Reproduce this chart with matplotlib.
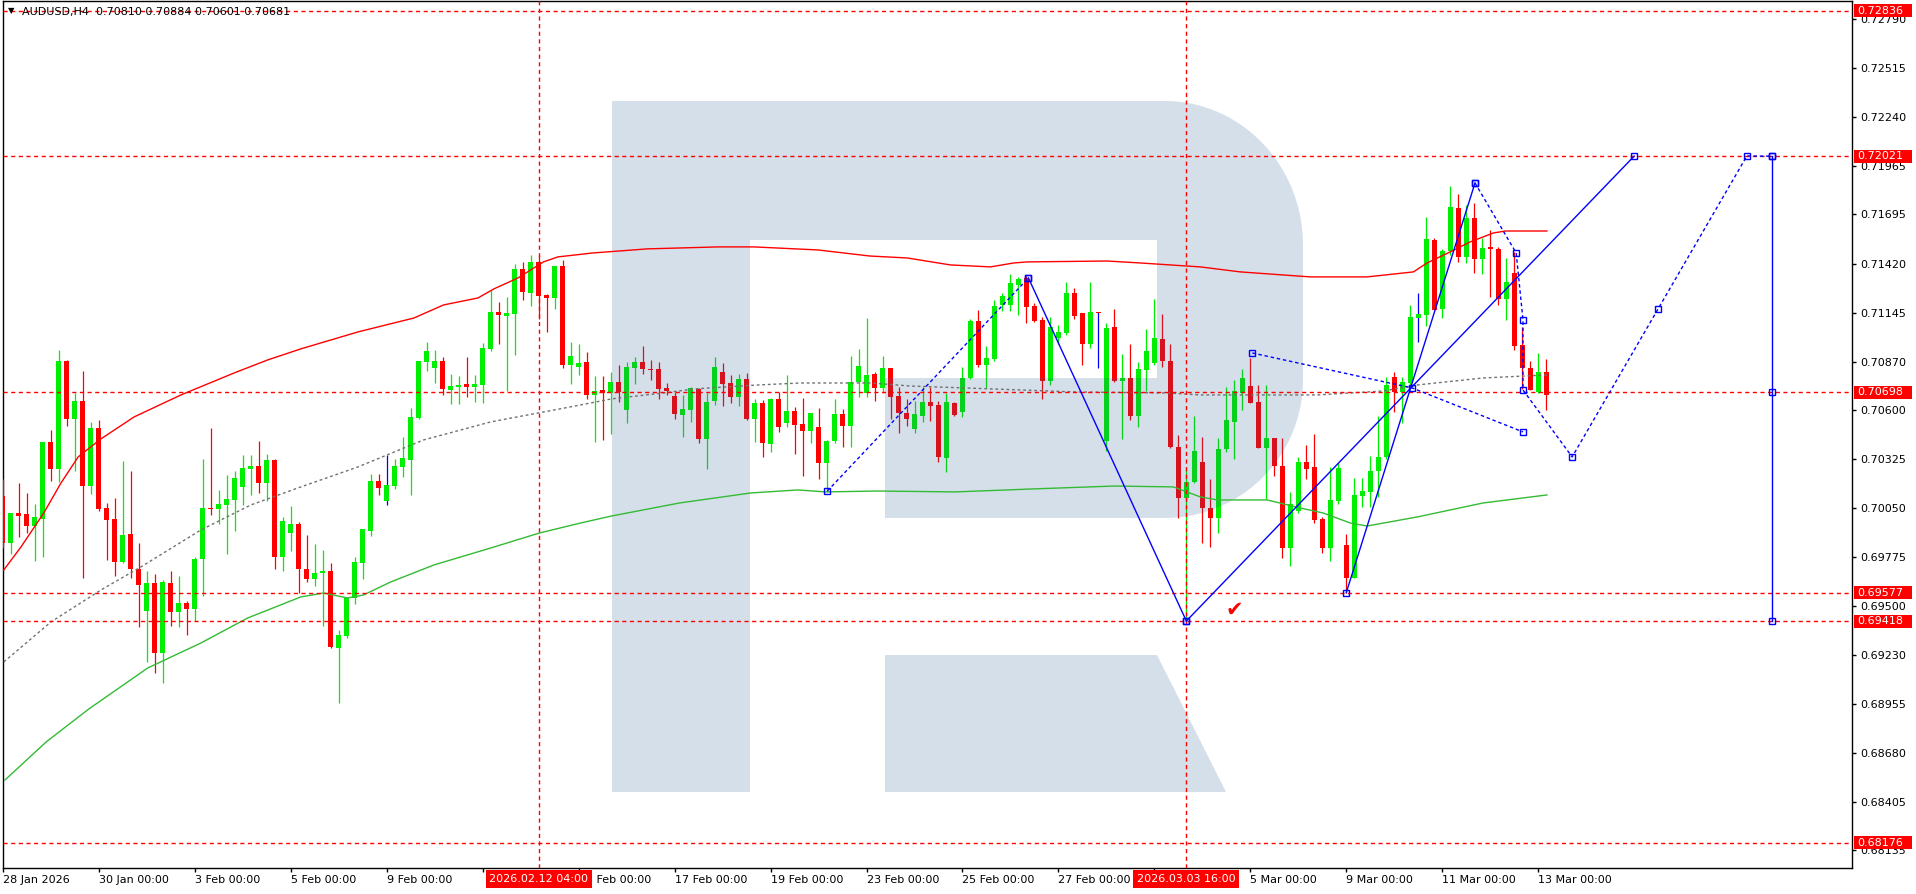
import numpy as np
import matplotlib
matplotlib.use("Agg")
import matplotlib.pyplot as plt
from matplotlib.patches import Polygon, Rectangle
from matplotlib.transforms import blended_transform_factory

# ---- AUDUSD H4 candles (bar index 0 = 28 Jan 2026 00:00) ----
opens = [0.70118, 0.69855, 0.70023, 0.70018, 0.69950, 0.69990, 0.70421, 0.70270, 0.70874, 0.70550,
         0.70650, 0.70174, 0.70499, 0.70051, 0.69990, 0.69749, 0.69906, 0.69710, 0.69474, 0.69631,
         0.69239, 0.69631, 0.69467, 0.69519, 0.69486, 0.69766, 0.70051, 0.70046, 0.70068, 0.70096,
         0.70169, 0.70270, 0.70286, 0.70191, 0.70320, 0.69777, 0.69911, 0.69962, 0.69710, 0.69654,
         0.69687, 0.69698, 0.69267, 0.69334, 0.69547, 0.69743, 0.69922, 0.70202, 0.70090, 0.70174,
         0.70281, 0.70320, 0.70555, 0.70869, 0.70835, 0.70874, 0.70712, 0.70729, 0.70746, 0.70729,
         0.70740, 0.70942, 0.71149, 0.71126, 0.71138, 0.71390, 0.71255, 0.71429, 0.71244, 0.71227,
         0.71406, 0.70852, 0.70841, 0.70869, 0.70684, 0.70712, 0.70695, 0.70757, 0.70600, 0.70835,
         0.70869, 0.70830, 0.70830, 0.70723, 0.70678, 0.70572, 0.70600, 0.70718, 0.70438, 0.70650,
         0.70813, 0.70751, 0.70673, 0.70774, 0.70550, 0.70639, 0.70410, 0.70662, 0.70527, 0.70594,
         0.70522, 0.70482, 0.70505, 0.70303, 0.70426, 0.70578, 0.70510, 0.70757, 0.70695, 0.70802,
         0.70723, 0.70835, 0.70678, 0.70583, 0.70494, 0.70566, 0.70645, 0.70628, 0.70331, 0.70639,
         0.70589, 0.70779, 0.71098, 0.70852, 0.70886, 0.71188, 0.71188, 0.71300, 0.71339, 0.71182,
         0.71104, 0.70762, 0.71003, 0.71031, 0.71255, 0.71143, 0.70970, 0.71149, 0.70426, 0.71065,
         0.70762, 0.70779, 0.70566, 0.70824, 0.70863, 0.70998, 0.70874, 0.70393, 0.70107, 0.70197,
         0.70309, 0.70051, 0.69995, 0.70382, 0.70533, 0.70695, 0.70734, 0.70645, 0.70387, 0.70443,
         0.70286, 0.69827, 0.70034, 0.70309, 0.70281, 0.69990, 0.69827, 0.70090, 0.69844, 0.69659,
         0.70118, 0.70141, 0.70258, 0.70337, 0.70785, 0.70701, 0.70751, 0.71115, 0.71132, 0.71552,
         0.71166, 0.71490, 0.71731, 0.71457, 0.71675, 0.71446, 0.71513, 0.71502, 0.71222, 0.71367,
         0.70964, 0.70835, 0.70701, 0.70810]
highs = [0.70214, 0.70023, 0.70191, 0.70135, 0.70074, 0.70421, 0.70488, 0.70936, 0.70880, 0.70695,
         0.70818, 0.70533, 0.70544, 0.70079, 0.70107, 0.70314, 0.70258, 0.69855, 0.69698, 0.69682,
         0.69648, 0.69698, 0.69670, 0.69530, 0.69777, 0.70326, 0.70499, 0.70152, 0.70236, 0.70258,
         0.70345, 0.70348, 0.70426, 0.70354, 0.70326, 0.70001, 0.70062, 0.69973, 0.69900, 0.69850,
         0.69816, 0.69743, 0.69368, 0.69553, 0.69777, 0.69934, 0.70242, 0.70242, 0.70345, 0.70326,
         0.70449, 0.70611, 0.70874, 0.70981, 0.70936, 0.70897, 0.70802, 0.70790, 0.70897, 0.70796,
         0.70975, 0.71272, 0.71205, 0.71233, 0.71418, 0.71429, 0.71468, 0.71468, 0.71250, 0.71406,
         0.71440, 0.70981, 0.70970, 0.70925, 0.70790, 0.70790, 0.70813, 0.70852, 0.70869, 0.70897,
         0.70958, 0.70880, 0.70869, 0.70751, 0.70701, 0.70684, 0.70729, 0.70723, 0.70695, 0.70897,
         0.70863, 0.70796, 0.70802, 0.70807, 0.70662, 0.70656, 0.70667, 0.70701, 0.70796, 0.70617,
         0.70667, 0.70583, 0.70611, 0.70432, 0.70662, 0.70606, 0.70902, 0.70942, 0.71115, 0.70813,
         0.70902, 0.70835, 0.70729, 0.70662, 0.70650, 0.70729, 0.70729, 0.70650, 0.70695, 0.70645,
         0.70841, 0.71110, 0.71160, 0.70958, 0.71216, 0.71255, 0.71362, 0.71345, 0.71350, 0.71199,
         0.71121, 0.71121, 0.71076, 0.71317, 0.71283, 0.71143, 0.71317, 0.71149, 0.71087, 0.71166,
         0.70914, 0.70970, 0.70869, 0.71054, 0.71222, 0.71138, 0.70970, 0.70460, 0.70264, 0.70566,
         0.70449, 0.70214, 0.70443, 0.70729, 0.70768, 0.70830, 0.70891, 0.70740, 0.70740, 0.70443,
         0.70443, 0.70141, 0.70337, 0.70404, 0.70466, 0.70001, 0.70281, 0.70303, 0.69906, 0.70219,
         0.70219, 0.70342, 0.70566, 0.70785, 0.70813, 0.70785, 0.71188, 0.71255, 0.71681, 0.71563,
         0.71502, 0.71854, 0.71810, 0.71748, 0.71759, 0.71563, 0.71608, 0.71513, 0.71451, 0.71485,
         0.71065, 0.70874, 0.70919, 0.70884]
lows = [0.69827, 0.69794, 0.69889, 0.69911, 0.69754, 0.69777, 0.70202, 0.70197, 0.70510, 0.70258,
        0.69659, 0.70130, 0.70034, 0.69760, 0.69670, 0.69743, 0.69659, 0.69385, 0.69189, 0.69127,
        0.69071, 0.69390, 0.69385, 0.69340, 0.69418, 0.69558, 0.70012, 0.69962, 0.69794, 0.69922,
        0.70068, 0.70124, 0.70135, 0.70090, 0.69710, 0.69698, 0.69810, 0.69575, 0.69637, 0.69614,
        0.69390, 0.69267, 0.68959, 0.69323, 0.69514, 0.69654, 0.69894, 0.70124, 0.70068, 0.70158,
        0.70225, 0.70124, 0.70550, 0.70818, 0.70751, 0.70684, 0.70634, 0.70634, 0.70673, 0.70645,
        0.70639, 0.70930, 0.70970, 0.70706, 0.70908, 0.71216, 0.71182, 0.71110, 0.71037, 0.71166,
        0.70835, 0.70746, 0.70796, 0.70662, 0.70421, 0.70432, 0.70466, 0.70645, 0.70527, 0.70746,
        0.70802, 0.70768, 0.70662, 0.70684, 0.70550, 0.70449, 0.70533, 0.70415, 0.70270, 0.70628,
        0.70622, 0.70639, 0.70622, 0.70544, 0.70421, 0.70337, 0.70365, 0.70477, 0.70505, 0.70354,
        0.70230, 0.70415, 0.70214, 0.70141, 0.70415, 0.70393, 0.70393, 0.70673, 0.70673, 0.70650,
        0.70695, 0.70550, 0.70471, 0.70510, 0.70471, 0.70533, 0.70538, 0.70309, 0.70253, 0.70566,
        0.70561, 0.70774, 0.70841, 0.70723, 0.70874, 0.71154, 0.71154, 0.71132, 0.71087, 0.71093,
        0.70662, 0.70740, 0.70970, 0.71020, 0.71110, 0.70852, 0.70947, 0.70835, 0.70370, 0.70757,
        0.70438, 0.70544, 0.70505, 0.70706, 0.70852, 0.70841, 0.70387, 0.69995, 0.69418, 0.70191,
        0.69855, 0.69833, 0.69911, 0.70365, 0.70326, 0.70600, 0.70639, 0.70387, 0.70102, 0.70230,
        0.69771, 0.69726, 0.70023, 0.70214, 0.69967, 0.69799, 0.69754, 0.70074, 0.69577, 0.69659,
        0.70057, 0.70057, 0.70113, 0.70326, 0.70589, 0.70527, 0.70723, 0.70981, 0.71070, 0.71160,
        0.71115, 0.71468, 0.71429, 0.71423, 0.71367, 0.71362, 0.71233, 0.71188, 0.71104, 0.70936,
        0.70718, 0.70712, 0.70695, 0.70601]
closes = [0.69855, 0.70023, 0.70006, 0.69950, 0.70001, 0.70421, 0.70270, 0.70874, 0.70550, 0.70650,
          0.70174, 0.70499, 0.70046, 0.69984, 0.69749, 0.69900, 0.69710, 0.69620, 0.69631, 0.69239,
          0.69637, 0.69467, 0.69519, 0.69486, 0.69766, 0.70051, 0.70046, 0.70074, 0.70102, 0.70219,
          0.70275, 0.70286, 0.70191, 0.70320, 0.69777, 0.69978, 0.69962, 0.69710, 0.69654, 0.69687,
          0.69698, 0.69273, 0.69340, 0.69547, 0.69749, 0.69934, 0.70202, 0.70163, 0.70180, 0.70286,
          0.70331, 0.70561, 0.70874, 0.70930, 0.70874, 0.70718, 0.70734, 0.70740, 0.70729, 0.70746,
          0.70947, 0.71149, 0.71132, 0.71143, 0.71390, 0.71261, 0.71429, 0.71238, 0.71227, 0.71406,
          0.70852, 0.70902, 0.70863, 0.70684, 0.70706, 0.70695, 0.70757, 0.70701, 0.70841, 0.70869,
          0.70830, 0.70824, 0.70718, 0.70706, 0.70578, 0.70606, 0.70723, 0.70438, 0.70645, 0.70841,
          0.70746, 0.70673, 0.70774, 0.70550, 0.70639, 0.70415, 0.70662, 0.70505, 0.70594, 0.70516,
          0.70482, 0.70583, 0.70303, 0.70426, 0.70578, 0.70510, 0.70757, 0.70846, 0.70796, 0.70723,
          0.70835, 0.70673, 0.70583, 0.70550, 0.70578, 0.70645, 0.70622, 0.70337, 0.70645, 0.70572,
          0.70779, 0.71098, 0.70852, 0.70891, 0.71182, 0.71238, 0.71311, 0.71334, 0.71177, 0.71098,
          0.70762, 0.71065, 0.71037, 0.71255, 0.71126, 0.70970, 0.71149, 0.71143, 0.71059, 0.70762,
          0.70779, 0.70566, 0.70830, 0.70930, 0.71003, 0.70874, 0.70393, 0.70107, 0.70197, 0.70370,
          0.70051, 0.69995, 0.70382, 0.70544, 0.70706, 0.70779, 0.70639, 0.70387, 0.70443, 0.70286,
          0.69827, 0.70074, 0.70309, 0.70270, 0.69984, 0.69827, 0.70096, 0.70275, 0.69659, 0.70124,
          0.70146, 0.70258, 0.70337, 0.70740, 0.70701, 0.70757, 0.71121, 0.71138, 0.71558, 0.71160,
          0.71490, 0.71737, 0.71457, 0.71675, 0.71446, 0.71507, 0.71502, 0.71222, 0.71317, 0.70958,
          0.70835, 0.70712, 0.70813, 0.70681]
blue_wick_bars = [48, 137, 177]

# ---- indicator lines, read at sparse bar positions ----
red_band_x = [0.1, 2.25, 5.1, 7.25, 9.4, 12.25, 16.4, 22.25, 28.9, 33.1, 37.25, 44.4, 51.4, 55.1, 59.4,
              61.4, 64.4, 67.6, 69.4, 73.75, 80.6, 89.5, 93.9, 101.9, 108.4, 113.1, 118.5, 123.5, 126.4,
              128.1, 138.1, 142.25, 149.75, 154.75, 163.5, 170.6, 176.4, 178.1, 181, 183.5, 186.4, 187.9, 193.1]
red_band_y = [0.69704, 0.69833, 0.70023, 0.70191, 0.70337, 0.70438, 0.70561, 0.70684, 0.70807, 0.70880,
              0.70942, 0.71037, 0.71115, 0.71188, 0.71227, 0.71278, 0.71339, 0.71429, 0.71457, 0.71479,
              0.71502, 0.71513, 0.71513, 0.71496, 0.71462, 0.71451, 0.71412, 0.71401, 0.71423, 0.71429,
              0.71434, 0.71423, 0.71401, 0.71373, 0.71345, 0.71345, 0.71373, 0.71423, 0.71485, 0.71541,
              0.71591, 0.71602, 0.71602]
mid_x = [0.1, 6, 12.25, 17.25, 24.75, 31, 37.25, 44.4, 52.6, 61, 72.25, 76.1, 82.6, 86.5, 94.5, 99.75,
         108.5, 113.5, 123.5, 133.9, 145.6, 149.75, 164.4, 172.6, 176.9, 185.1, 193.1]
mid_y = [0.69189, 0.69413, 0.69592, 0.69721, 0.69928, 0.70068, 0.70169, 0.70281, 0.70432, 0.70533,
         0.70628, 0.70662, 0.70695, 0.70718, 0.70740, 0.70751, 0.70751, 0.70734, 0.70718, 0.70701,
         0.70695, 0.70684, 0.70684, 0.70706, 0.70740, 0.70779, 0.70796]
green_band_x = [0.25, 5.4, 10.75, 18.1, 24.75, 30.6, 37.25, 40.1, 43.1, 45.1, 48.5, 53.9, 61, 67.1, 72.25,
                76.1, 84.6, 93.5, 99.4, 102.9, 109.25, 119.1, 129, 139, 146.4, 149.75, 151.9, 158.1,
                162.25, 165.1, 168.5, 170.6, 176.9, 185.1, 193.1]
green_band_y = [0.68528, 0.68741, 0.68926, 0.69155, 0.69295, 0.69435, 0.69553, 0.69575, 0.69547, 0.69564,
                0.69637, 0.69732, 0.69827, 0.69911, 0.69967, 0.70006, 0.70079, 0.70135, 0.70152, 0.70141,
                0.70146, 0.70141, 0.70158, 0.70174, 0.70169, 0.70113, 0.70096, 0.70096, 0.70051, 0.70023,
                0.69967, 0.69950, 0.70001, 0.70079, 0.70124]

# ---- horizontal levels and drawn analysis ----
levels = [0.72836, 0.72021, 0.70698, 0.69577, 0.69418, 0.68176]
marker_bars = [67, 148]
marker_labels = ["2026.02.12 04:00", "2026.03.03 16:00"]
wave_solid = [([128.25, 148], [0.71339, 0.69418]),
              ([148, 204], [0.69418, 0.72021]),
              ([168, 184.1], [0.69577, 0.71871])]
wave_dashed = [([103.1, 128.25], [0.70146, 0.71339]),
               ([156.25, 176.25, 190.1], [0.70919, 0.70723, 0.70477])]
forecast_x = [184.1, 189.25, 190.1, 190.1, 196.25, 207, 218.1, 221.25]
forecast_y = [0.71871, 0.71479, 0.71104, 0.70712, 0.70337, 0.71166, 0.72022, 0.72021]
target_x = 221.25
target_y = [0.72021, 0.70698, 0.69418]

price_ticks = [0.72790, 0.72515, 0.72240, 0.71965, 0.71695, 0.71420, 0.71145, 0.70870, 0.70600,
               0.70325, 0.70050, 0.69775, 0.69500, 0.69230, 0.68955, 0.68680, 0.68405, 0.68135]
date_ticks = list(range(0, 193, 12))
# labels at 11 Feb and 3 Mar sit under the red time boxes and are not visible
date_labels = ["28 Jan 2026", "30 Jan 00:00", "3 Feb 00:00", "5 Feb 00:00", "9 Feb 00:00",
               "", "13 Feb 00:00", "17 Feb 00:00", "19 Feb 00:00", "23 Feb 00:00",
               "25 Feb 00:00", "27 Feb 00:00", "", "5 Mar 00:00", "9 Mar 00:00",
               "11 Mar 00:00", "13 Mar 00:00"]
title = "AUDUSD,H4  0.70810 0.70884 0.70601 0.70681"

BULL = "#00ee00"
BEAR = "#ff0000"
W, H = 1916, 894

fig = plt.figure(figsize=(W / 100, H / 100), dpi=100)
ax = fig.add_axes([3 / W, (H - 868) / H, (1852 - 3) / W, (868 - 1) / H])
ax.set_xlim(0.125, 231.25)
ax.set_ylim(0.68035, 0.72890)

# candles
o, h, l, c = map(np.array, (opens, highs, lows, closes))
x = np.arange(len(o))
up = c >= o
body_col = np.where(up, BULL, BEAR)
wick_col = body_col.copy()
wick_col[blue_wick_bars] = "#0000ff"
ax.vlines(x, l, h, colors=list(wick_col), lw=0.9, zorder=3)
ax.bar(x, np.maximum(np.abs(c - o), 0.00004), bottom=np.minimum(o, c), width=0.625,
       color=list(body_col), linewidth=0, zorder=4)

# indicator lines
ax.plot(red_band_x, red_band_y, color="#ff0000", lw=1.0, zorder=6)
ax.plot(mid_x, mid_y, color="#707070", lw=1.0, dashes=(2, 2), zorder=6)
ax.plot(green_band_x, green_band_y, color="#33bb33", lw=1.0, zorder=6)

# watermark logo (pixel coordinates of the picture)
def to_fig(pts):
    return [(px / W, 1 - py / H) for px, py in pts]

bowl = [(612, 101), (1165, 101)]
for a in np.linspace(np.pi / 2, 0, 24):
    bowl.append((1165 + 138 * np.cos(a), 245 - 144 * np.sin(a)))
for a in np.linspace(0, -np.pi / 2, 24):
    bowl.append((1165 + 138 * np.cos(a), 380 - 138 * np.sin(a)))
bowl += [(885, 518), (885, 378), (1157, 378), (1157, 240), (750, 240), (750, 792), (612, 792)]
leg = [(885, 655), (1157, 655), (1226, 792), (885, 792)]
for shape in (bowl, leg):
    ax.add_patch(Polygon(to_fig(shape), closed=True, transform=fig.transFigure,
                         fc=(45 / 255, 95 / 255, 150 / 255), ec="none", alpha=0.2, zorder=5))

# levels
for p in levels:
    ax.axhline(p, color="#ff0000", lw=1.0, dashes=(3, 2.5), zorder=7)
for b in marker_bars:
    ax.axvline(b, color="#ff0000", lw=1.0, dashes=(3, 2.5), zorder=7)

# drawn waves
for xs, ys in wave_solid:
    ax.plot(xs, ys, color="#0000ff", lw=1.0, zorder=8)
    ax.plot(xs, ys, ls="none", marker="s", ms=5, mfc="none", mec="#0000ff", mew=1, zorder=9)
for xs, ys in wave_dashed:
    ax.plot(xs, ys, color="#0000ff", lw=1.0, dashes=(2.5, 2), zorder=8)
    ax.plot(xs, ys, ls="none", marker="s", ms=4, mfc="none", mec="#0000ff", mew=1, zorder=9)
ax.plot(forecast_x, forecast_y, color="#0000ff", lw=1.0, dashes=(2.5, 2), zorder=8)
ax.plot(forecast_x, forecast_y, ls="none", marker="s", ms=4, mfc="none", mec="#0000ff", mew=1, zorder=9)
ax.plot([target_x] * len(target_y), target_y, color="#0000ff", lw=1.0, zorder=8)
ax.plot([target_x] * len(target_y), target_y, ls="none", marker="s", ms=5, mfc="none",
        mec="#0000ff", mew=1, zorder=9)
ax.text(154, 0.6948, "\u2714", color="#ff0000", fontsize=15, ha="center", va="center", zorder=9)

# axes styling
for s in ax.spines.values():
    s.set_color("black")
    s.set_linewidth(1.0)
ax.yaxis.tick_right()
ax.set_yticks(price_ticks)
ax.set_yticklabels([f"{t:.5f}" for t in price_ticks])
ax.set_xticks(date_ticks)
ax.set_xticklabels(date_labels)
for lbl in ax.get_xticklabels():
    lbl.set_ha("left")
ax.tick_params(axis="both", labelsize=8, length=3, width=1, direction="out", colors="black")
ax.tick_params(axis="y", pad=3)
ax.tick_params(axis="x", pad=2)

# price labels on the right axis
trans_y = blended_transform_factory(ax.transAxes, ax.transData)
box_w = 58 / 1849
box_h = 6.5 * 0.000056
for p in levels:
    ax.add_patch(Rectangle((1.0 + 2 / 1849, p - box_h), box_w, 2 * box_h, transform=trans_y,
                           fc="#ff0000", ec="none", clip_on=False, zorder=20))
    ax.text(1.0 + 5 / 1849, p, f"{p:.5f}", transform=trans_y, color="white", fontsize=8,
            ha="left", va="center", clip_on=False, zorder=21)

# time labels under the marker lines
trans_x = blended_transform_factory(ax.transData, ax.transAxes)
for b, txt in zip(marker_bars, marker_labels):
    ax.add_patch(Rectangle((b - 53 / 8, -20 / 867), 106 / 8, 18 / 867, transform=trans_x,
                           fc="#ff0000", ec="none", clip_on=False, zorder=20))
    ax.text(b, -11 / 867, txt, transform=trans_x, color="white", fontsize=8,
            ha="center", va="center", clip_on=False, zorder=21)

fig.text(8 / W, 1 - 11 / H, "\u25bc", fontsize=6, va="center", ha="left")
fig.text(22 / W, 1 - 12 / H, title, fontsize=8, va="center", ha="left")

fig.savefig("out.png", dpi=100, facecolor="white")
